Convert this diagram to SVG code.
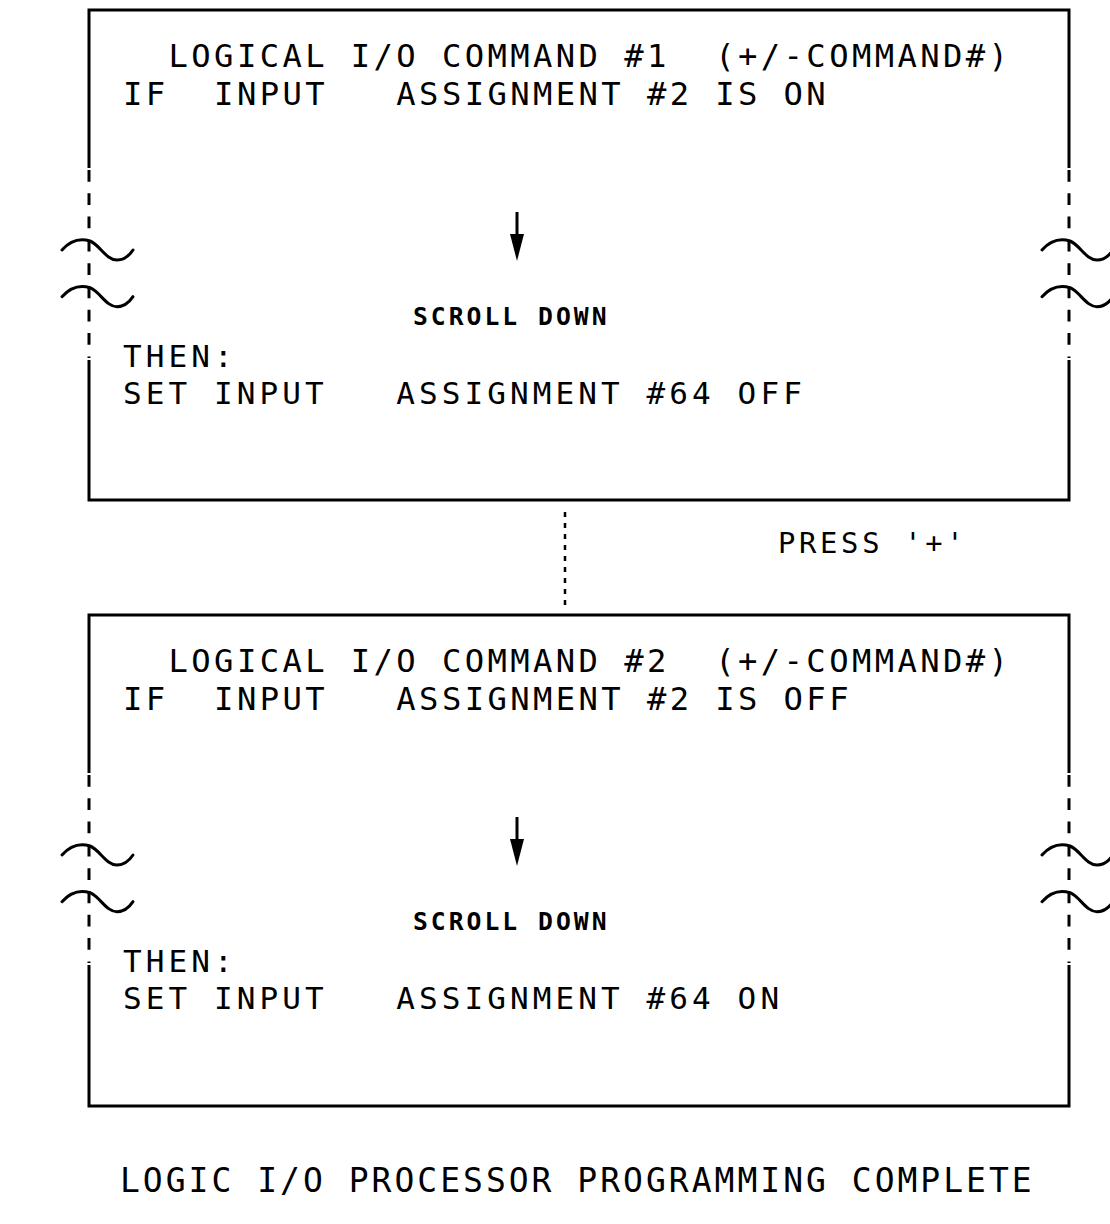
<svg xmlns="http://www.w3.org/2000/svg" xmlns:xlink="http://www.w3.org/1999/xlink" width="1110" height="1224" viewBox="0 0 1110 1224">
<style>
.frame{fill:none;stroke:#000;stroke-width:3;stroke-linecap:butt;stroke-linejoin:miter}
.brk{fill:none;stroke:#000;stroke-width:3;stroke-dasharray:11.7 11.6}
.tl{fill:none;stroke:#000;stroke-width:3;stroke-linecap:round}
.dot{fill:none;stroke:#000;stroke-width:2.5;stroke-dasharray:5 6}
.arr{fill:none;stroke:#000;stroke-width:3}
.t{font-family:"DejaVu Sans Mono","Liberation Mono",monospace;font-size:32.2px;letter-spacing:3.4px;fill:#000;white-space:pre}
.t2{font-family:"DejaVu Sans Mono","Liberation Mono",monospace;font-size:31px;letter-spacing:4.1px;fill:#000;white-space:pre}
.s{font-family:"DejaVu Sans Mono","Liberation Mono",monospace;font-weight:bold;font-size:24.7px;letter-spacing:3px;fill:#000;white-space:pre}
.p{font-family:"DejaVu Sans Mono","Liberation Mono",monospace;font-size:28.8px;letter-spacing:3.7px;fill:#000;white-space:pre}
.b{font-family:"DejaVu Sans Mono","Liberation Mono",monospace;font-size:33px;letter-spacing:3px;fill:#000;white-space:pre}
</style>
<defs>
<path id="tilde" class="tl" d="M62,250 C70,241 80,238 90,241 C100,245 106,260 117,260 C124,260 129,256 133,250"/>
<marker id="ah" viewBox="0 0 27 14" refX="0" refY="7" markerWidth="27" markerHeight="14" markerUnits="userSpaceOnUse" orient="auto">
<path d="M0,0 L27,7 L0,14 Z" fill="#000"/>
</marker>
</defs>
<rect width="1110" height="1224" fill="#fff"/>

<g id="box1">
<path class="frame" d="M89,168 V10 H1069 V168 M89,360 V500 H1069 V360"/>
<path class="brk" d="M89,170 V358 M1069,170 V358"/>
<use xlink:href="#tilde" href="#tilde"/>
<use xlink:href="#tilde" href="#tilde" transform="translate(0,46.7)"/>
<use xlink:href="#tilde" href="#tilde" transform="translate(980,0)"/>
<use xlink:href="#tilde" href="#tilde" transform="translate(980,46.7)"/>
<text class="t" x="123" y="67" xml:space="preserve">  LOGICAL I/O COMMAND #1  (+/-COMMAND#)</text>
<text class="t" x="123" y="105" xml:space="preserve">IF  INPUT   ASSIGNMENT #2 IS ON</text>
<text class="s" x="413" y="325">SCROLL DOWN</text>
<text class="t2" x="123" y="366.5">THEN:</text>
<text class="t2" x="123" y="404" xml:space="preserve">SET INPUT   ASSIGNMENT #64 OFF</text>
</g>

<g id="box2">
<path class="frame" d="M89,773 V615 H1069 V773 M89,965 V1106 H1069 V965"/>
<path class="brk" d="M89,775 V963 M1069,775 V963"/>
<use xlink:href="#tilde" href="#tilde" transform="translate(0,605)"/>
<use xlink:href="#tilde" href="#tilde" transform="translate(0,651.7)"/>
<use xlink:href="#tilde" href="#tilde" transform="translate(980,605)"/>
<use xlink:href="#tilde" href="#tilde" transform="translate(980,651.7)"/>
<text class="t" x="123" y="672" xml:space="preserve">  LOGICAL I/O COMMAND #2  (+/-COMMAND#)</text>
<text class="t" x="123" y="710" xml:space="preserve">IF  INPUT   ASSIGNMENT #2 IS OFF</text>
<text class="s" x="413" y="930">SCROLL DOWN</text>
<text class="t2" x="123" y="971.5">THEN:</text>
<text class="t2" x="123" y="1009" xml:space="preserve">SET INPUT   ASSIGNMENT #64 ON</text>
</g>

<g id="connectors">
<line class="arr" x1="517" y1="212" x2="517" y2="234" marker-end="url(#ah)"/>
<line class="arr" x1="517" y1="817" x2="517" y2="839" marker-end="url(#ah)"/>
<line class="dot" x1="565" y1="512" x2="565" y2="607"/>
</g>

<g id="labels">
<text class="p" x="778" y="553" xml:space="preserve">PRESS '+'</text>
<text class="b" x="120" y="1192" xml:space="preserve">LOGIC I/O PROCESSOR PROGRAMMING COMPLETE</text>
</g>
</svg>
